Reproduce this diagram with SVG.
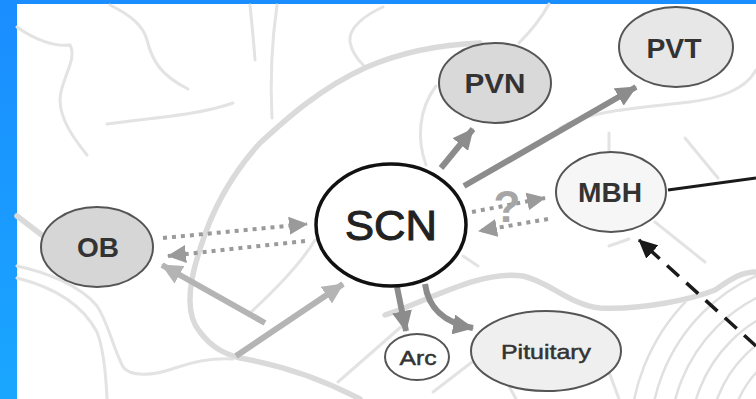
<svg xmlns="http://www.w3.org/2000/svg" width="756" height="399" viewBox="0 0 756 399">
  <defs>
    <linearGradient id="frameBlue" x1="0" y1="0" x2="0" y2="1">
      <stop offset="0" stop-color="#1a8dff"/>
      <stop offset="1" stop-color="#1aa6ff"/>
    </linearGradient>
    <marker id="headDark" markerUnits="userSpaceOnUse" markerWidth="22" markerHeight="20" refX="20" refY="10" orient="auto">
      <path d="M0,0 L21,10 L0,20 z" fill="#8c8c8c"/>
    </marker>
    <marker id="headLight" markerUnits="userSpaceOnUse" markerWidth="22" markerHeight="20" refX="20" refY="10" orient="auto">
      <path d="M0,0 L21,10 L0,20 z" fill="#b4b4b4"/>
    </marker>
    <marker id="headDot" markerUnits="userSpaceOnUse" markerWidth="20" markerHeight="18" refX="18" refY="9" orient="auto">
      <path d="M0,0 L19,9 L0,18 z" fill="#9a9a9a"/>
    </marker>
    <marker id="headBlack" markerUnits="userSpaceOnUse" markerWidth="20" markerHeight="18" refX="18" refY="9" orient="auto">
      <path d="M0,0 L19,9 L0,18 z" fill="#1a1a1a"/>
    </marker>
    <clipPath id="folia">
      <polygon points="600,399 600,312 640,310 690,301 715,291 735,276 756,273 756,399"/>
    </clipPath>
  </defs>
  <style>
    .bg { fill: none; stroke: #e3e3e3; stroke-width: 3; stroke-linecap: round; }
    .bgThick { fill: none; stroke: #dadada; stroke-width: 5.5; stroke-linecap: round; }
    .fol { fill: none; stroke: #e0e0e0; stroke-width: 2.5; }
    .node { stroke: #555; stroke-width: 2; }
    .lbl { font-family: "Liberation Sans", Arial, sans-serif; font-weight: bold; fill: #333; text-anchor: middle; }
    .sub { font-family: "Liberation Sans", Arial, sans-serif; fill: #333; stroke: #333; stroke-width: 0.5; text-anchor: middle; }
    .solidDark { fill: none; stroke: #8c8c8c; stroke-width: 6; }
    .solidLight { fill: none; stroke: #b4b4b4; stroke-width: 6; }
    .dotted { fill: none; stroke: #9a9a9a; stroke-width: 4; stroke-dasharray: 4 5; }
  </style>

  <!-- frame -->
  <rect x="0" y="0" width="756" height="399" fill="url(#frameBlue)"/>
  <rect x="17" y="4" width="739" height="395" fill="#ffffff"/>

  <!-- anatomical background outline -->
  <g id="background">
    <path class="bg" d="M17,27 C35,40 55,47 70,45 C78,60 60,80 60,100 C60,120 75,140 87,155"/>
    <path class="bg" d="M110,5 C130,15 143,25 147,40 C152,60 160,75 188,89"/>
    <path class="bg" d="M107,124 C150,118 200,115 233,103"/>
    <path class="bg" d="M250,5 C252,25 254,45 255,60"/>
    <path class="bg" d="M277,5 C272,40 270,80 272,118"/>
    <path class="bg" d="M383,7 C365,15 348,28 350,42 C352,53 358,60 364,66"/>
    <path class="bgThick" d="M480,43 C430,45 395,55 367,67 C320,88 285,120 260,143 C240,165 215,200 200,249 C188,285 185,315 200,332 C212,348 225,354 240,358 C280,365 320,378 360,399"/>
    <path class="bg" d="M315,240 C300,265 275,290 250,313"/>
    <path class="bgThick" d="M17,216 L43,236"/>
    <path class="bg" d="M17,266 C45,272 80,285 97,306 C108,322 112,345 123,367 C130,376 150,377 175,368 C195,361 215,358 233,359"/>
    <path class="bg" d="M17,278 C45,285 80,300 97,332 C104,350 106,375 107,399"/>
    <path class="bg" d="M519,43 C532,30 543,15 549,4"/>
    <path class="bg" d="M426,165 C417,140 418,110 436,86"/>
    <path class="bg" d="M560,128 C590,110 640,108 690,102 C720,98 745,90 756,70"/>
    <path class="bg" d="M609,133 L609,152"/>
    <path class="bg" d="M685,138 L718,178"/>
    <path class="bg" d="M655,222 L705,262"/>
    <path class="bg" d="M609,246 L629,239"/>
    <path class="bg" d="M463,256 L478,266"/>
    <path class="bgThick" d="M385,315 C430,300 480,270 523,276 C550,282 570,305 600,308 C640,310 690,300 715,290 C730,280 740,272 756,272"/>
    <path class="bg" d="M338,382 L402,326"/>
    <path class="bg" d="M476,359 L433,392"/>
    <path class="bg" d="M509,386 L516,399"/>
    <path class="bg" d="M609,372 L619,399"/>
    <g clip-path="url(#folia)">
      <circle class="fol" cx="830" cy="440" r="200"/>
      <circle class="fol" cx="830" cy="440" r="180"/>
      <circle class="fol" cx="830" cy="440" r="160"/>
      <circle class="fol" cx="830" cy="440" r="140"/>
      <circle class="fol" cx="830" cy="440" r="120"/>
      <circle class="fol" cx="830" cy="440" r="100"/>
    </g>
  </g>

  <!-- connectors -->
  <g id="connectors">
    <path class="solidDark" d="M441,168 L473,129" marker-end="url(#headDark)"/>
    <path class="solidDark" d="M464,186 L636,87" marker-end="url(#headDark)"/>
    <path class="solidDark" d="M397,287 L406,331" marker-end="url(#headDark)"/>
    <path class="solidDark" d="M425,284 C428,305 440,322 473,328" marker-end="url(#headDark)"/>
    <path class="solidLight" d="M236,356 L343,284" marker-end="url(#headLight)"/>
    <path class="solidLight" d="M265,323 L162,265" marker-end="url(#headLight)"/>
    <path class="dotted" d="M163,238 L307,224" marker-end="url(#headDot)"/>
    <path class="dotted" d="M305,241 L168,256" marker-end="url(#headDot)"/>
    <path class="dotted" d="M472,212 L545,198" marker-end="url(#headDot)"/>
    <path class="dotted" d="M548,219 L479,231" marker-end="url(#headDot)"/>
    <text x="507" y="222" font-family="Liberation Sans, Arial, sans-serif" font-weight="bold" font-size="44" fill="#a6a6a6" text-anchor="middle">?</text>
    <path d="M668,190 L756,178" fill="none" stroke="#1a1a1a" stroke-width="3"/>
    <path d="M756,346 L639,240" fill="none" stroke="#1a1a1a" stroke-width="3.5" stroke-dasharray="16 10" marker-end="url(#headBlack)"/>
  </g>

  <!-- nodes -->
  <g id="node-scn">
    <ellipse cx="391" cy="225" rx="75" ry="61" fill="#ffffff" stroke="#111" stroke-width="3.5"/>
    <text x="391" y="240" font-family="Liberation Sans, Arial, sans-serif" font-size="42" fill="#222" stroke="#222" stroke-width="1" text-anchor="middle" textLength="92" lengthAdjust="spacingAndGlyphs">SCN</text>
  </g>
  <g id="node-ob">
    <ellipse class="node" cx="97" cy="247" rx="56" ry="40" fill="#d6d6d6"/>
    <text class="lbl" x="98" y="257" font-size="27" textLength="42" lengthAdjust="spacingAndGlyphs">OB</text>
  </g>
  <g id="node-pvn">
    <ellipse class="node" cx="495" cy="83" rx="56" ry="40" fill="#d9d9d9"/>
    <text class="lbl" x="495" y="93" font-size="27" textLength="61" lengthAdjust="spacingAndGlyphs">PVN</text>
  </g>
  <g id="node-pvt">
    <ellipse class="node" cx="676" cy="47" rx="57" ry="40" fill="#e7e7e7"/>
    <text class="lbl" x="674" y="58" font-size="27" textLength="55" lengthAdjust="spacingAndGlyphs">PVT</text>
  </g>
  <g id="node-mbh">
    <ellipse class="node" cx="611" cy="192" rx="55" ry="40" fill="#f6f6f6"/>
    <text class="lbl" x="610" y="202" font-size="27" textLength="64" lengthAdjust="spacingAndGlyphs">MBH</text>
  </g>
  <g id="node-arc">
    <ellipse class="node" cx="417" cy="357" rx="32" ry="23" fill="#ffffff"/>
    <text class="sub" x="418" y="365" font-size="21" textLength="37" lengthAdjust="spacingAndGlyphs">Arc</text>
  </g>
  <g id="node-pituitary">
    <ellipse class="node" cx="546" cy="351" rx="75" ry="40" fill="#efefef"/>
    <text class="sub" x="546" y="359" font-size="21" textLength="90" lengthAdjust="spacingAndGlyphs">Pituitary</text>
  </g>
</svg>
